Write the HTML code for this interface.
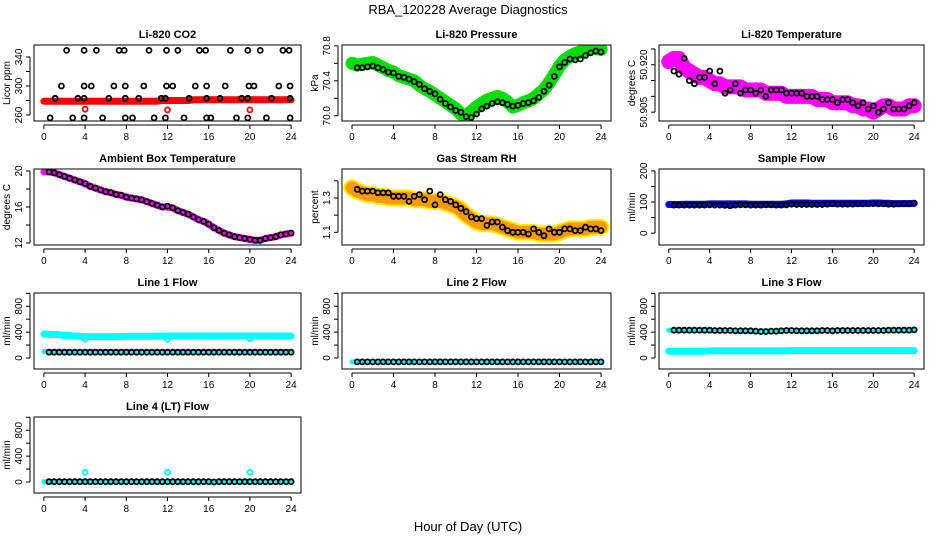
<!DOCTYPE html>
<html><head><meta charset="utf-8"><style>
html,body{margin:0;padding:0;background:#fff;}
svg{display:block;font-family:"Liberation Sans",Arial,sans-serif;}
</style></head><body>
<svg id="chart" width="936" height="540" viewBox="0 0 936 540">
<text x="468" y="14" text-anchor="middle" font-size="13">RBA_120228  Average Diagnostics</text>
<text x="468" y="531" text-anchor="middle" font-size="13">Hour of Day (UTC)</text>
</svg>
<script>
// ---- data ----
const xTicks = [0,4,8,12,16,20,24];
const co2Hours = [2.2,3.9,5.1,7.3,7.8,10.2,11.9,13,15.1,15.7,18.1,19.8,21,23.2,23.8, 1.7,3.9,4.6,6.8,7.9,9.7,11.9,12.5,14.7,15.8,17.6,19.9,20.4,22.8,23.9, 1.1,3.3,3.9,6.3,7.9,9.2,11.4,11.8,14.1,15.8,17.1,19.2,19.8,22.1,23.9, 0.6,2.8,3.9,5.7,7.9,8.6,10.7,11.8,13.6,15.8,16.2,18.7,19.8,21.6,23.9];
const co2Values = [349,349,349,349,349,349,349,349,349,349,349,349,349,349,349, 300,300,300,300,300,300,300,300,300,300,300,300,300,300,300, 283,283,283,283,283,283,283,283,283,283,283,283,283,283,283, 256,256,256,256,256,256,256,256,256,256,256,256,256,256,256];
const co2Red = [279,279,279,279,279,279,279,279,279,279,279,279,279,279,279,279,279,279,279,279,279,279,279,280,280,280,280,280,280,281,281,281,281,281,281,281,281,281,281,281,281,281,281,281,281,281,281,281,281];
const co2RedHours = [4,12,20];
const co2RedOutliers = [268,267,267];

const pressColor = [70.60,70.58,70.59,70.60,70.61,70.58,70.55,70.52,70.50,70.46,70.44,70.42,70.40,70.35,70.31,70.28,70.24,70.20,70.16,70.12,70.08,70.02,69.99,70.05,70.10,70.14,70.18,70.20,70.22,70.20,70.16,70.10,70.12,70.15,70.17,70.20,70.25,70.30,70.38,70.47,70.57,70.64,70.68,70.71,70.73,70.75,70.77,70.77,70.76];
const pressBlack = [70.55,70.55,70.56,70.57,70.55,70.53,70.50,70.49,70.45,70.44,70.42,70.39,70.36,70.31,70.28,70.25,70.19,70.14,70.10,70.06,70.04,69.99,69.98,70.02,70.08,70.11,70.14,70.16,70.15,70.13,70.11,70.12,70.14,70.15,70.17,70.21,70.28,70.35,70.45,70.56,70.61,70.65,70.64,70.65,70.69,70.72,70.74,70.73];

const tempColor = [50.921,50.922,50.922,50.919,50.918,50.917,50.916,50.916,50.915,50.914,50.914,50.913,50.913,50.913,50.913,50.912,50.912,50.912,50.912,50.911,50.911,50.911,50.911,50.910,50.910,50.910,50.910,50.910,50.910,50.909,50.909,50.909,50.908,50.908,50.908,50.908,50.907,50.907,50.906,50.906,50.905,50.906,50.907,50.907,50.906,50.906,50.906,50.907,50.907];
const tempBlack = [50.918,50.917,50.922,50.915,50.914,50.916,50.916,50.918,50.914,50.918,50.911,50.912,50.914,50.911,50.912,50.912,50.911,50.912,50.910,50.912,50.912,50.912,50.911,50.911,50.911,50.911,50.910,50.910,50.910,50.909,50.909,50.909,50.908,50.909,50.909,50.908,50.907,50.908,50.906,50.907,50.905,50.906,50.908,50.906,50.906,50.906,50.907,50.908];

const ambColor = [19.9,19.9,19.8,19.6,19.4,19.2,19.0,18.8,18.6,18.3,18.1,17.9,17.7,17.6,17.4,17.3,17.1,17.0,16.9,16.8,16.6,16.4,16.2,16.0,16.0,15.9,15.6,15.4,15.2,14.9,14.6,14.4,14.1,13.7,13.4,13.1,12.9,12.7,12.6,12.5,12.4,12.3,12.3,12.5,12.6,12.7,12.9,13.0,13.1];
const ambBlack = [19.9,19.8,19.6,19.4,19.2,19.0,18.8,18.6,18.3,18.1,17.9,17.7,17.6,17.4,17.3,17.1,17.0,16.9,16.8,16.6,16.4,16.2,16.0,16.1,15.9,15.6,15.4,15.2,14.9,14.6,14.4,14.1,13.7,13.4,13.1,12.9,12.7,12.6,12.5,12.4,12.3,12.3,12.5,12.6,12.7,12.9,13.0,13.1];

const rhColor = [1.36,1.34,1.33,1.32,1.32,1.31,1.31,1.30,1.30,1.30,1.30,1.30,1.29,1.29,1.29,1.28,1.28,1.28,1.27,1.26,1.25,1.23,1.20,1.18,1.16,1.15,1.15,1.15,1.14,1.13,1.12,1.11,1.10,1.10,1.10,1.10,1.09,1.09,1.09,1.09,1.10,1.11,1.12,1.12,1.12,1.12,1.13,1.13,1.13];
const rhBlack = [1.35,1.34,1.34,1.34,1.33,1.33,1.33,1.31,1.31,1.31,1.28,1.31,1.32,1.29,1.34,1.26,1.32,1.29,1.28,1.26,1.24,1.22,1.19,1.18,1.18,1.14,1.16,1.16,1.13,1.11,1.10,1.10,1.10,1.09,1.12,1.10,1.08,1.12,1.10,1.10,1.12,1.12,1.11,1.11,1.13,1.12,1.12,1.11];

const sfColor = [92,92,92,93,93,93,93,93,94,94,94,94,94,94,94,94,93,93,93,93,93,93,93,94,97,97,97,97,96,96,96,96,96,96,96,96,96,96,96,96,97,97,96,96,95,95,95,95,96];
const sfBlack = [90,90,90,90,90,90,90,91,90,90,89,88,90,91,91,90,90,90,91,91,90,90,91,93,92,92,92,92,92,92,93,94,93,93,93,93,94,94,94,95,94,94,93,93,94,95,95,96];

const l1Upper = [370,368,365,360,350,345,340,335,330,330,330,330,330,330,330,332,335,335,335,335,335,335,338,338,340,340,340,340,340,340,340,340,340,340,340,340,340,340,340,340,340,340,340,340,340,340,340,340,340];
const l1Lower = [100,100,100,100,100,100,100,100,100,100,100,100,100,100,100,100,100,100,100,100,100,100,100,100,100,100,100,100,100,100,100,100,100,100,100,100,100,100,100,100,100,100,100,100,100,100,100,100,100];
const l1Black = [90,90,90,90,90,90,90,90,90,90,90,90,90,90,90,90,90,90,90,90,90,90,90,90,90,90,90,90,90,90,90,90,90,90,90,90,90,90,90,90,90,90,90,90,90,90,90,90];
const l1OutHours = [4,12,20];
const l1OutValues = [290,290,300];

const l2Color = [-60,-60,-60,-60,-60,-60,-60,-60,-60,-60,-60,-60,-60,-60,-60,-60,-60,-60,-60,-60,-60,-60,-60,-60,-60,-60,-60,-60,-60,-60,-60,-60,-60,-60,-60,-60,-60,-60,-60,-60,-60,-60,-60,-60,-60,-60,-60,-60,-60];
const l2Black = [-60,-60,-60,-60,-60,-60,-60,-60,-60,-60,-60,-60,-60,-60,-60,-60,-60,-60,-60,-60,-60,-60,-60,-60,-60,-60,-60,-60,-60,-60,-60,-60,-60,-60,-60,-60,-60,-60,-60,-60,-60,-60,-60,-60,-60,-60,-60,-60];

const l3Upper = [430,430,430,430,425,425,425,425,425,420,420,420,420,420,420,420,415,415,415,415,415,420,420,420,420,420,420,420,420,420,420,420,425,425,425,425,425,425,425,425,425,425,430,430,430,430,430,430,430];
const l3Lower = [105,105,105,105,105,105,105,105,110,110,110,110,110,110,110,110,110,110,110,110,110,110,110,110,115,115,115,115,115,115,115,115,115,115,115,115,115,115,115,115,115,115,115,115,115,115,115,115,115];
const l3Black = [430,430,430,430,430,430,430,430,425,425,425,425,420,420,420,420,415,410,410,415,415,420,425,425,420,420,420,420,420,425,425,420,425,425,425,425,425,425,425,425,425,425,430,430,430,430,430,435];

const l4Color = [5,5,5,5,5,5,5,5,5,5,5,5,5,5,5,5,5,5,5,5,5,5,5,5,5,5,5,5,5,5,5,5,5,5,5,5,5,5,5,5,5,5,5,5,5,5,5,5,5];
const l4Black = [5,5,5,5,5,5,5,5,5,5,5,5,5,5,5,5,5,5,5,5,5,5,5,5,5,5,5,5,5,5,5,5,0,5,5,5,5,5,5,5,5,5,5,5,5,5,5,5];
const l4OutHours = [4,12,20];
const l4OutValues = [150,150,150];

// ---- drawing ----
const svg = document.getElementById('chart');
const NS = 'http://www.w3.org/2000/svg';
function mk(tag, attrs, parent){
  const e = document.createElementNS(NS, tag);
  for (const k in attrs) e.setAttribute(k, attrs[k]);
  (parent||svg).appendChild(e);
  return e;
}
const XMIN = -0.96, XMAX = 24.96;
function colHours(n){ const a=[]; for(let i=0;i<n;i++) a.push(24*i/(n-1)); return a; }
function blkHours(n){ const a=[]; for(let i=0;i<n;i++) a.push(0.5+23.5*i/(n-1)); return a; }

function panel(cfg){
  const g = mk('g', {});
  
  
  const L=cfg.l, R=cfg.r, T=cfg.t, B=cfg.b;
  const sx = v => L + (v - XMIN) / (XMAX - XMIN) * (R - L);
  const sy = v => B - (v - cfg.ymin) / (cfg.ymax - cfg.ymin) * (B - T);
  const clip = 'clip-' + cfg.name;
  const cp = mk('clipPath', {id: clip}, g);
  mk('rect', {x:L, y:T, width:R-L, height:B-T}, cp);
  const plot = mk('g', {'clip-path': 'url(#'+clip+')'}, g);
  
  

  (cfg.bands||[]).forEach(bd => {
    const hs = colHours(bd.values.length);
    const pts = bd.values.map((v,i)=> sx(hs[i]).toFixed(1)+','+sy(v).toFixed(1)).join(' ');
    if (bd.edge) {
      const pe = mk('polyline', {points:pts, fill:'none', stroke:bd.edge, 'stroke-width':bd.w+4, 'stroke-linejoin':'round', 'stroke-linecap':'round'}, plot);
      
      
    }
    const p = mk('polyline', {points:pts, fill:'none', stroke:bd.color, 'stroke-width':bd.w, 'stroke-linejoin':'round', 'stroke-linecap':'round'}, plot);
    
    
  });
  (cfg.points||[]).forEach(ps => {
    const hs = ps.hours || blkHours(ps.values.length);
    ps.values.forEach((v,i) => {
      const c = mk('circle', {cx:sx(hs[i]).toFixed(1), cy:sy(v).toFixed(1), r:2.5, fill:'none', stroke:ps.color, 'stroke-width':1.8}, plot);
      
      
    });
  });
  const box = mk('rect', {x:L, y:T, width:R-L, height:B-T, fill:'none', stroke:'#000', 'stroke-width':1}, g);
  
  
  const xa = mk('g', {}, g);
  
  
  mk('line', {x1:sx(xTicks[0]), x2:sx(xTicks[xTicks.length-1]), y1:B+4, y2:B+4, stroke:'#000'}, xa);
  xTicks.forEach(t => {
    mk('line', {x1:sx(t), x2:sx(t), y1:B+4, y2:B+8, stroke:'#000'}, xa);
    const tx = mk('text', {x:sx(t), y:B+19, 'text-anchor':'middle', 'font-size':10}, xa);
    tx.textContent = t;
    
    
  });
  const ya = mk('g', {}, g);
  
  
  const yt = cfg.yTicks;
  mk('line', {x1:L-4, x2:L-4, y1:sy(yt[0]), y2:sy(yt[yt.length-1]), stroke:'#000'}, ya);
  yt.forEach(t => mk('line', {x1:L-8, x2:L-4, y1:sy(t), y2:sy(t), stroke:'#000'}, ya));
  cfg.yLabels.forEach(t => {
    const y = sy(t);
    const tx = mk('text', {x:L-12, y:y, 'text-anchor':'middle', 'font-size':10, transform:'rotate(-90 '+(L-12)+' '+y+')'}, ya);
    tx.textContent = cfg.fmt ? cfg.fmt(t) : t;
    
    
  });
  const yl = mk('text', {x:L-24, y:(T+B)/2, 'text-anchor':'middle', 'font-size':10, transform:'rotate(-90 '+(L-24)+' '+((T+B)/2)+')'}, g);
  yl.textContent = cfg.ylab;
  
  
  const ti = mk('text', {x:(L+R)/2, y:T-7, 'text-anchor':'middle', 'font-size':11, 'font-weight':'bold'}, g);
  ti.textContent = cfg.title;
  
  
}

const cols = [[34,301],[342,611],[659,924]];
const rows = [[45,121],[169,245],[293,369],[417,493]];
const flowTicks = [0,200,400,600,800,1000];

panel({name:'co2', title:'Li-820 CO2', ylab:'Licor ppm', l:cols[0][0], r:cols[0][1], t:rows[0][0], b:rows[0][1],
  ymin:251.7, ymax:356.5, yTicks:[260,280,300,320,340], yLabels:[260,300,340],
  bands:[{name:'co2-licor-band', values:co2Red, color:'#ff0000', w:7}],
  points:[{name:'co2-hourly-point', values:co2Values, hours:co2Hours, color:'#000'},
          {name:'co2-red-outlier', values:co2RedOutliers, hours:co2RedHours, color:'#ff0000'}]});
panel({name:'pressure', title:'Li-820 Pressure', ylab:'kPa', l:cols[1][0], r:cols[1][1], t:rows[0][0], b:rows[0][1],
  ymin:69.94, ymax:70.81, yTicks:[70.0,70.2,70.4,70.6,70.8], yLabels:[70.0,70.4,70.8], fmt:v=>v.toFixed(1),
  bands:[{name:'pressure-band', values:pressColor, color:'#00dd00', w:13}],
  points:[{name:'pressure-hourly-point', values:pressBlack, color:'#000'}]});
panel({name:'li820-temp', title:'Li-820 Temperature', ylab:'degrees C', l:cols[2][0], r:cols[2][1], t:rows[0][0], b:rows[0][1],
  ymin:50.9022, ymax:50.92625, yTicks:[50.905,50.910,50.915,50.920,50.925], yLabels:[50.905,50.920], fmt:v=>v.toFixed(3),
  bands:[{name:'li820-temp-band', values:tempColor, color:'#ff00ff', w:15}],
  points:[{name:'li820-temp-hourly-point', values:tempBlack, color:'#000'}]});

panel({name:'ambient', title:'Ambient Box Temperature', ylab:'degrees C', l:cols[0][0], r:cols[0][1], t:rows[1][0], b:rows[1][1],
  ymin:11.78, ymax:20.22, yTicks:[12,14,16,18,20], yLabels:[12,16,20],
  bands:[{name:'ambient-band', values:ambColor, color:'#ff00ff', w:7}],
  points:[{name:'ambient-hourly-point', values:ambBlack, color:'#000'}]});
panel({name:'rh', title:'Gas Stream RH', ylab:'percent', l:cols[1][0], r:cols[1][1], t:rows[1][0], b:rows[1][1],
  ymin:1.026, ymax:1.469, yTicks:[1.1,1.2,1.3,1.4], yLabels:[1.1,1.3], fmt:v=>v.toFixed(1),
  bands:[{name:'rh-band', values:rhColor, color:'#ff9900', edge:'#ffee00', w:13}],
  points:[{name:'rh-hourly-point', values:rhBlack, color:'#000'}]});
panel({name:'sample-flow', title:'Sample Flow', ylab:'ml/min', l:cols[2][0], r:cols[2][1], t:rows[1][0], b:rows[1][1],
  ymin:-38, ymax:206, yTicks:[0,50,100,150,200], yLabels:[0,100,200],
  bands:[{name:'sample-flow-band', values:sfColor, color:'#0000ff', w:7}],
  points:[{name:'sample-flow-hourly-point', values:sfBlack, color:'#000'}]});

panel({name:'line1', title:'Line 1 Flow', ylab:'ml/min', l:cols[0][0], r:cols[0][1], t:rows[2][0], b:rows[2][1],
  ymin:-170, ymax:1005, yTicks:flowTicks, yLabels:[0,400,800],
  bands:[{name:'line1-upper-band', values:l1Upper, color:'#00ffff', w:7},{name:'line1-lower-band', values:l1Lower, color:'#00ffff', w:5}],
  points:[{name:'line1-hourly-point', values:l1Black, color:'#000'},{name:'line1-outlier', values:l1OutValues, hours:l1OutHours, color:'#00ffff'}]});
panel({name:'line2', title:'Line 2 Flow', ylab:'ml/min', l:cols[1][0], r:cols[1][1], t:rows[2][0], b:rows[2][1],
  ymin:-170, ymax:1005, yTicks:flowTicks, yLabels:[0,400,800],
  bands:[{name:'line2-band', values:l2Color, color:'#00ffff', w:5}],
  points:[{name:'line2-hourly-point', values:l2Black, color:'#000'}]});
panel({name:'line3', title:'Line 3 Flow', ylab:'ml/min', l:cols[2][0], r:cols[2][1], t:rows[2][0], b:rows[2][1],
  ymin:-170, ymax:1005, yTicks:flowTicks, yLabels:[0,400,800],
  bands:[{name:'line3-upper-band', values:l3Upper, color:'#00ffff', w:5},{name:'line3-lower-band', values:l3Lower, color:'#00ffff', w:7}],
  points:[{name:'line3-hourly-point', values:l3Black, color:'#000'}]});

panel({name:'line4', title:'Line 4 (LT) Flow', ylab:'ml/min', l:cols[0][0], r:cols[0][1], t:rows[3][0], b:rows[3][1],
  ymin:-170, ymax:1005, yTicks:flowTicks, yLabels:[0,400,800],
  bands:[{name:'line4-band', values:l4Color, color:'#00ffff', w:5}],
  points:[{name:'line4-hourly-point', values:l4Black, color:'#000'},{name:'line4-outlier', values:l4OutValues, hours:l4OutHours, color:'#00ffff'}]});
</script>
</body></html>
